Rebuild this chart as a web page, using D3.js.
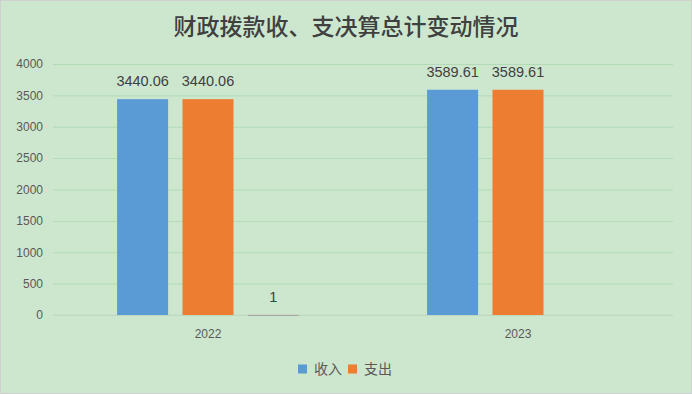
<!DOCTYPE html>
<html>
<head>
<meta charset="utf-8">
<script src="https://cdn.jsdelivr.net/npm/d3@7"></script>
<style>
  body { margin: 0; background: #fff; }
  svg { display: block; font-family: "Noto Sans CJK SC", "Noto Sans", sans-serif; }
</style>
</head>
<body>
<div id="chart"></div>
<script>
var years = ["2022", "2023"];
var seriesNames = ["收入", "支出", "其他"];
var income = [3440.06, 3589.61];
var expense = [3440.06, 3589.61];
var other = [1, null];
var yTicks = [0, 500, 1000, 1500, 2000, 2500, 3000, 3500, 4000];
var colors = ["#5b9bd5", "#ed7d31", "#a5a5a5"];
var legendNames = ["收入", "支出"];

var W = 692, H = 394;
var margin = { top: 64, right: 19, bottom: 79, left: 53 };

var svg = d3.select("#chart").append("svg")
	.attr("width", W)
	.attr("height", H);

// background + border
svg.append("rect")
	.attr("x", 0.5).attr("y", 0.5)
	.attr("width", W - 1).attr("height", H - 1)
	.attr("fill", "#cde7cf")
	.attr("stroke", "#d0d0d0");

svg.append("text")
	.attr("x", W / 2)
	.attr("y", 35)
	.attr("text-anchor", "middle")
	.attr("fill", "#404040")
	.attr("font-size", 23)
	.attr("font-weight", 500)
	.text("财政拨款收、支决算总计变动情况");

var data = years.map(function (y, i) {
	return { year: y, values: [income[i], expense[i], other[i]] };
});

var x0 = d3.scaleBand()
	.domain(years)
	.range([margin.left, W - margin.right]);

var x1 = d3.scaleBand()
	.domain(seriesNames)
	.range([0, x0.bandwidth()])
	.paddingInner(0.22)
	.paddingOuter(0.98);

var y = d3.scaleLinear()
	.domain([0, 4000])
	.range([H - margin.bottom, margin.top]);

// gridlines
svg.append("g")
	.call(d3.axisLeft(y).tickValues(yTicks).tickSize(-(W - margin.left - margin.right)).tickFormat(""))
	.attr("transform", "translate(" + margin.left + ",0)")
	.call(g => g.select(".domain").remove())
	.call(g => g.selectAll("line").attr("stroke", "#b3dab5"));

// y labels
svg.append("g")
	.attr("transform", "translate(" + (margin.left - 10) + ",0)")
	.call(d3.axisLeft(y).tickValues(yTicks).tickSize(0).tickPadding(0).tickFormat(d3.format("d")))
	.call(g => g.select(".domain").remove())
	.call(g => g.selectAll("text")
		.attr("fill", "#595959")
		.attr("font-size", 12)
		.style("font-family", "'Liberation Sans', Arial, sans-serif"));

// baseline
svg.append("line")
	.attr("x1", margin.left).attr("x2", W - margin.right)
	.attr("y1", y(0)).attr("y2", y(0))
	.attr("stroke", "#c8d8c8");

// x labels
svg.append("g")
	.attr("transform", "translate(0," + y(0) + ")")
	.call(d3.axisBottom(x0).tickSize(0).tickPadding(14))
	.call(g => g.select(".domain").remove())
	.call(g => g.selectAll("text")
		.attr("fill", "#595959")
		.attr("font-size", 12)
		.style("font-family", "'Liberation Sans', Arial, sans-serif"));

var groups = svg.append("g")
	.selectAll("g")
	.data(data)
	.join("g")
	.attr("transform", d => "translate(" + x0(d.year) + ",0)");

var cells = groups.selectAll("g")
	.data(d => d.values.map((v, i) => ({ key: seriesNames[i], value: v, i: i })).filter(c => c.value != null))
	.join("g");

cells.append("rect")
	.attr("x", d => x1(d.key))
	.attr("y", d => y(d.value))
	.attr("width", x1.bandwidth())
	.attr("height", d => Math.max(1, y(0) - y(d.value)))
	.attr("fill", d => colors[d.i]);

cells.append("text")
	.attr("x", d => x1(d.key) + x1.bandwidth() / 2)
	.attr("y", d => y(d.value) - 13)
	.attr("text-anchor", "middle")
	.attr("fill", "#404040")
	.attr("font-size", 14.5)
	.style("font-family", "'Liberation Sans', Arial, sans-serif")
	.text(d => d.value);

// legend
var legend = svg.append("g")
	.attr("transform", "translate(298,369)");

var lg = legend.selectAll("g")
	.data(legendNames)
	.join("g")
	.attr("transform", (d, i) => "translate(" + (i * 50) + ",0)");

lg.append("rect")
	.attr("x", 0).attr("y", -4.5)
	.attr("width", 9).attr("height", 9)
	.attr("fill", (d, i) => colors[i]);

lg.append("text")
	.attr("x", 16)
	.attr("y", 0)
	.attr("dy", "0.35em")
	.attr("fill", "#595959")
	.attr("font-size", 14)
	.text(d => d);
</script>
</body>
</html>
